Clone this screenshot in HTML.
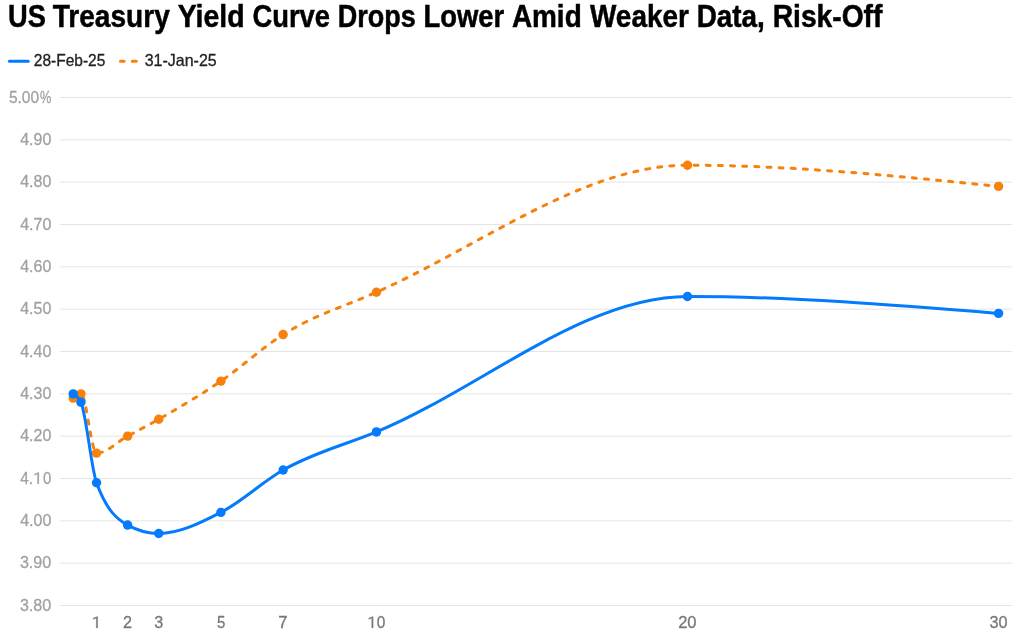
<!DOCTYPE html>
<html><head><meta charset="utf-8"><title>US Treasury Yield Curve</title>
<style>
html,body{margin:0;padding:0;background:#fff;}
body{width:1017px;height:636px;overflow:hidden;font-family:"Liberation Sans",sans-serif;}
svg{display:block;font-family:"Liberation Sans",sans-serif;will-change:transform;}
.tt{font-size:31.2px;font-weight:700;fill:#000;stroke:#000;stroke-width:0.5px;}
.lg{font-size:16.5px;fill:#222;stroke:#222;stroke-width:0.3px;}
.yl{font-size:16.5px;fill:#a1a1a1;stroke:#a1a1a1;stroke-width:0.28px;}
.xl{font-size:16.5px;fill:#777;stroke:#777;stroke-width:0.3px;}
</style></head><body>
<svg width="1017" height="636" viewBox="0 0 1017 636">
<line x1="60" x2="1012" y1="97.50" y2="97.50" stroke="#e5e5e5" stroke-width="1"/>
<line x1="60" x2="1012" y1="139.83" y2="139.83" stroke="#e5e5e5" stroke-width="1"/>
<line x1="60" x2="1012" y1="182.17" y2="182.17" stroke="#e5e5e5" stroke-width="1"/>
<line x1="60" x2="1012" y1="224.50" y2="224.50" stroke="#e5e5e5" stroke-width="1"/>
<line x1="60" x2="1012" y1="266.83" y2="266.83" stroke="#e5e5e5" stroke-width="1"/>
<line x1="60" x2="1012" y1="309.17" y2="309.17" stroke="#e5e5e5" stroke-width="1"/>
<line x1="60" x2="1012" y1="351.50" y2="351.50" stroke="#e5e5e5" stroke-width="1"/>
<line x1="60" x2="1012" y1="393.83" y2="393.83" stroke="#e5e5e5" stroke-width="1"/>
<line x1="60" x2="1012" y1="436.17" y2="436.17" stroke="#e5e5e5" stroke-width="1"/>
<line x1="60" x2="1012" y1="478.50" y2="478.50" stroke="#e5e5e5" stroke-width="1"/>
<line x1="60" x2="1012" y1="520.83" y2="520.83" stroke="#e5e5e5" stroke-width="1"/>
<line x1="60" x2="1012" y1="563.17" y2="563.17" stroke="#e5e5e5" stroke-width="1"/>
<line x1="60" x2="1012" y1="605.50" y2="605.50" stroke="#e5e5e5" stroke-width="1"/>
<text transform="translate(8.88,102.80) scale(0.9444,1)" class="yl" >5.00</text>
<text transform="translate(40.00,102.80) scale(0.7724,1)" class="yl" >%</text>
<text transform="translate(20.14,145.13) scale(0.9710,1)" class="yl" >4.90</text>
<text transform="translate(20.14,187.47) scale(0.9710,1)" class="yl" >4.80</text>
<text transform="translate(20.14,229.80) scale(0.9710,1)" class="yl" >4.70</text>
<text transform="translate(20.14,272.13) scale(0.9710,1)" class="yl" >4.60</text>
<text transform="translate(20.14,314.47) scale(0.9710,1)" class="yl" >4.50</text>
<text transform="translate(20.14,356.80) scale(0.9710,1)" class="yl" >4.40</text>
<text transform="translate(20.14,399.13) scale(0.9710,1)" class="yl" >4.30</text>
<text transform="translate(20.14,441.47) scale(0.9710,1)" class="yl" >4.20</text>
<text transform="translate(20.15,483.80) scale(0.9343,1)" class="yl" >4.</text>
<path d="M38.90,483.80 L37.44,483.80 L37.44,474.17 L34.53,475.24 L34.53,473.92 L38.67,472.37 L38.90,472.37Z" class="yl"/>
<text transform="translate(42.94,483.80) scale(0.9091,1)" class="yl" >0</text>
<text transform="translate(20.14,526.13) scale(0.9710,1)" class="yl" >4.00</text>
<text transform="translate(19.89,568.47) scale(0.9788,1)" class="yl" >3.90</text>
<text transform="translate(19.89,610.80) scale(0.9788,1)" class="yl" >3.80</text>
<path d="M97.71,627.90 L96.26,627.90 L96.26,618.27 L93.34,619.34 L93.34,618.02 L97.48,616.47 L97.71,616.47Z" class="xl"/>
<text transform="translate(122.99,627.90) scale(0.9803,1)" class="xl" >2</text>
<text transform="translate(154.29,627.90) scale(0.9825,1)" class="xl" >3</text>
<text transform="translate(217.00,627.90) scale(0.9059,1)" class="xl" >5</text>
<text transform="translate(278.27,627.90) scale(1.0068,1)" class="xl" >7</text>
<path d="M373.17,627.90 L371.71,627.90 L371.71,618.27 L368.80,619.34 L368.80,618.02 L372.94,616.47 L373.17,616.47Z" class="xl"/>
<text transform="translate(376.82,627.90) scale(0.9343,1)" class="xl" >0</text>
<text transform="translate(678.17,627.90) scale(1.0017,1)" class="xl" >20</text>
<text transform="translate(989.59,627.90) scale(0.9838,1)" class="xl" >30</text>
<path d="M73.18,398.07C75.77,395.95 78.36,393.83 80.95,393.83C86.14,393.83 91.32,453.10 96.51,453.10C106.87,453.10 117.24,441.81 127.61,436.17C137.98,430.52 148.35,425.11 158.72,419.23C179.45,407.47 200.19,395.24 220.93,381.13C241.66,367.02 262.40,347.64 283.13,334.57C314.24,314.95 345.35,306.02 376.45,292.23C480.13,246.28 583.82,165.23 687.50,165.23C791.18,165.23 894.87,175.82 998.55,186.40" fill="none" stroke="#f8800c" stroke-width="3" stroke-dasharray="4 8.15" stroke-linecap="round" stroke-linejoin="round"/>
<circle cx="73.18" cy="398.07" r="4.7" fill="#f8800c"/>
<circle cx="80.95" cy="393.83" r="4.7" fill="#f8800c"/>
<circle cx="96.51" cy="453.10" r="4.7" fill="#f8800c"/>
<circle cx="127.61" cy="436.17" r="4.7" fill="#f8800c"/>
<circle cx="158.72" cy="419.23" r="4.7" fill="#f8800c"/>
<circle cx="220.93" cy="381.13" r="4.7" fill="#f8800c"/>
<circle cx="283.13" cy="334.57" r="4.7" fill="#f8800c"/>
<circle cx="376.45" cy="292.23" r="4.7" fill="#f8800c"/>
<circle cx="687.50" cy="165.23" r="4.7" fill="#f8800c"/>
<circle cx="998.55" cy="186.40" r="4.7" fill="#f8800c"/>
<path d="M73.18,393.83C75.77,395.24 78.36,396.66 80.95,402.30C86.14,413.59 91.32,468.62 96.51,482.73C106.87,510.96 117.24,519.42 127.61,525.07C137.98,530.71 148.35,533.53 158.72,533.53C179.45,533.53 200.19,522.95 220.93,512.37C241.66,501.78 262.40,481.89 283.13,470.03C314.24,452.25 345.35,444.83 376.45,431.93C480.13,388.95 583.82,296.47 687.50,296.47C791.18,296.47 894.87,304.93 998.55,313.40" fill="none" stroke="#037bfc" stroke-width="3" stroke-linecap="round" stroke-linejoin="round"/>
<circle cx="73.18" cy="393.83" r="4.7" fill="#037bfc"/>
<circle cx="80.95" cy="402.30" r="4.7" fill="#037bfc"/>
<circle cx="96.51" cy="482.73" r="4.7" fill="#037bfc"/>
<circle cx="127.61" cy="525.07" r="4.7" fill="#037bfc"/>
<circle cx="158.72" cy="533.53" r="4.7" fill="#037bfc"/>
<circle cx="220.93" cy="512.37" r="4.7" fill="#037bfc"/>
<circle cx="283.13" cy="470.03" r="4.7" fill="#037bfc"/>
<circle cx="376.45" cy="431.93" r="4.7" fill="#037bfc"/>
<circle cx="687.50" cy="296.47" r="4.7" fill="#037bfc"/>
<circle cx="998.55" cy="313.40" r="4.7" fill="#037bfc"/>
<line x1="9.4" x2="28.2" y1="61.35" y2="61.35" stroke="#037bfc" stroke-width="3" stroke-linecap="round"/>
<line x1="120.5" x2="124.0" y1="61.35" y2="61.35" stroke="#f8800c" stroke-width="3" stroke-linecap="round"/>
<line x1="132.4" x2="136.2" y1="61.35" y2="61.35" stroke="#f8800c" stroke-width="3" stroke-linecap="round"/>
<text transform="translate(33.82,65.90) scale(0.9408,1)" class="lg" >28-Feb-25</text>
<text transform="translate(144.70,65.90) scale(0.9697,1)" class="lg" >31-Jan-25</text>
<text transform="translate(8.07,26.60) scale(0.8729,1)" class="tt" >US</text>
<text transform="translate(52.72,26.60) scale(0.9002,1)" class="tt" >Treasury</text>
<text transform="translate(177.67,26.60) scale(0.9125,1)" class="tt" >Yield</text>
<text transform="translate(252.51,26.60) scale(0.8768,1)" class="tt" >Curve</text>
<text transform="translate(337.74,26.60) scale(0.8654,1)" class="tt" >Drops</text>
<text transform="translate(423.42,26.60) scale(0.8793,1)" class="tt" >Lower</text>
<text transform="translate(511.90,26.60) scale(0.8950,1)" class="tt" >Amid</text>
<text transform="translate(590.00,26.60) scale(0.8956,1)" class="tt" >Weaker</text>
<text transform="translate(696.69,26.60) scale(0.8930,1)" class="tt" >Data,</text>
<text transform="translate(772.67,26.60) scale(0.9044,1)" class="tt" >Risk-Off</text>
</svg>
</body></html>
